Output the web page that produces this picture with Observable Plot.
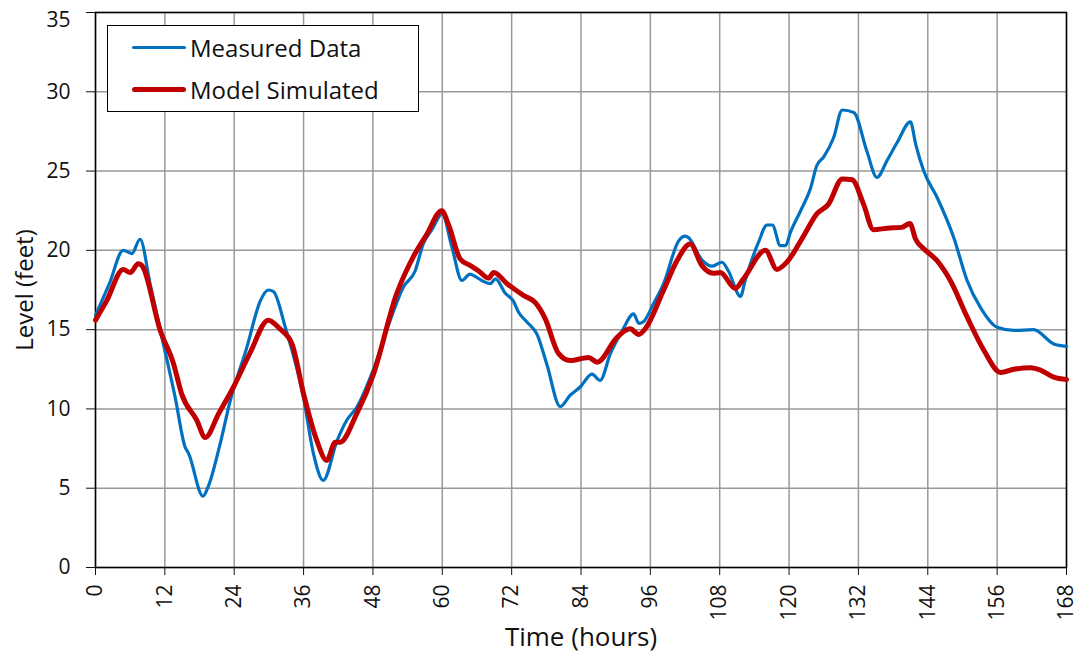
<!DOCTYPE html>
<html>
<head>
<meta charset="utf-8">
<script src="https://cdn.jsdelivr.net/npm/d3@7"></script>
<script src="https://cdn.jsdelivr.net/npm/@observablehq/plot@0.6"></script>
<style>
  body { margin: 0; background: #fff; font-family: "Open Sans", sans-serif; }
  #wrap { position: relative; width: 1079px; height: 655px; }
  #legend { position: absolute; left: 107px; top: 25px; width: 310px; height: 85px;
            border: 1.5px solid #000; background: #fff; box-sizing: content-box; }
  .row { position: absolute; left: 0; display: flex; align-items: center; font-size: 24px; color: #111; }
  .sw { display: inline-block; width: 54px; margin-left: 24px; margin-right: 4px; border-radius: 3px; }
</style>
</head>
<body>
<div id="wrap"></div>
<script>
const measuredHours = [0,2.4,4.8,6.3,7.7,9.5,11.5,13.8,15.5,16.1,18.6,19.5,21.5,23.3,26.2,28.5,29.9,30.8,32.8,36.0,37.7,39.4,41.8,43.5,45.2,48,51.0,53.3,55.3,56.7,58.2,60.0,61.6,63.4,64.8,65.7,67.1,68.3,69.2,70.9,72.3,73.2,74.6,76.4,78.1,80.4,82.1,83.9,85.9,87.3,89.1,91.1,93.1,94.0,94.8,96.5,98.3,100.9,102.0,102.6,104.9,106.7,108.4,109.5,111.6,112.4,114.7,116.2,117.1,118.5,119.4,120.2,122.0,123.7,124.8,126.0,127.7,129.2,131.2,133.5,135.2,137.0,138.7,141.0,141.9,143.3,145.6,148.5,150.8,153.1,156.0,158.9,162.3,165.8,168];
const measuredLevel = [15.9,17.9,20.0,19.8,20.7,17.8,14.5,10.7,7.6,7.2,4.5,5.1,7.7,10.5,13.9,16.8,17.5,17.4,15.2,10.7,7.2,5.5,8.0,9.3,10.1,12.4,15.6,17.7,18.7,20.4,21.3,22.3,20.3,18.1,18.5,18.35,18.05,17.9,18.2,17.3,16.8,16.1,15.5,14.7,12.8,10.15,10.85,11.4,12.2,11.8,13.5,14.9,16.0,15.4,15.5,16.6,17.9,20.6,20.9,20.8,19.4,19.0,19.25,18.7,17.1,18.1,20.5,21.6,21.6,20.3,20.3,21.1,22.5,23.9,25.35,25.9,27.1,28.85,28.7,26.2,24.6,25.7,26.8,28.1,26.7,25.0,23.35,20.8,18.1,16.4,15.15,14.95,15.0,14.1,13.95];

const modelHours = [0,1.9,4.8,6.0,7.4,8.0,11.2,13.5,14.9,17.5,19.0,21.3,23.9,26.7,29.9,31.9,34.0,36.0,38.3,40.0,41.5,42.3,45.2,48.1,52.1,55.0,57.3,59.9,61.1,63.1,64.8,66.3,68.0,68.9,71.2,74.1,76.1,77.8,80.1,82.1,85.3,86.8,90.2,92.5,94.0,95.1,98.3,100.6,102.9,104.9,106.9,108.1,110.7,112.1,115.9,117.9,119.6,122.5,124.8,126.8,129.2,130.9,132.9,134.6,137.0,139.5,140.9,141.9,143.3,145.6,147.9,150.8,153.7,156.6,158.9,161.8,163.5,165.8,168];
const modelLevel = [15.6,16.8,18.8,18.6,19.15,19.05,14.95,12.85,10.95,9.3,8.2,9.7,11.4,13.5,15.6,15.05,14.1,10.95,8.0,6.75,7.9,7.9,9.7,12.2,17.25,19.6,21.0,22.5,21.6,19.45,19.05,18.7,18.25,18.6,17.9,17.15,16.7,15.7,13.5,13.05,13.25,12.95,14.5,15.05,14.7,15.05,17.5,19.35,20.4,19.05,18.55,18.6,17.6,18.2,20.0,18.8,19.25,20.9,22.3,22.9,24.5,24.45,22.9,21.3,21.4,21.45,21.7,20.7,20.1,19.35,18.1,15.8,13.7,12.3,12.5,12.6,12.45,12.0,11.85];

const xTicks = d3.range(0, 169, 12);
const yTicks = d3.range(0, 36, 5);
const seriesNames = ["Measured Data", "Model Simulated"];
const seriesColors = ["#0070C0", "#C00000"];

const measured = measuredHours.map((h, i) => ({h, v: measuredLevel[i]}));
const model = modelHours.map((h, i) => ({h, v: modelLevel[i]}));
const yTop = yTicks[yTicks.length - 1];

const chart = Plot.plot({
  width: 1079,
  height: 655,
  marginLeft: 95,
  marginRight: 13,
  marginTop: 12,
  marginBottom: 88,
  style: { fontFamily: "Open Sans, sans-serif", fontSize: "21px", color: "#111", background: "#fff", overflow: "visible" },
  x: { domain: [0, 168] },
  y: { domain: [0, 35] },
  marks: [
    Plot.gridX(xTicks, { stroke: "#999", strokeOpacity: 1, strokeWidth: 1.5 }),
    Plot.gridY(yTicks, { stroke: "#999", strokeOpacity: 1, strokeWidth: 1.5 }),
    Plot.frame({ stroke: "#000", strokeWidth: 1.5 }),
    Plot.axisX(xTicks, { tickRotate: -90, tickSize: 8, tickPadding: 9, fontSize: 21,
      label: "Time (hours)", labelAnchor: "center", labelArrow: "none", labelOffset: 78 }),
    Plot.axisY(yTicks.filter(t => t !== yTop), { tickSize: 9, tickPadding: 16, fontSize: 21,
      label: "Level (feet)", labelAnchor: "center", labelArrow: "none", labelOffset: 80 }),
    Plot.axisY([yTop], { tickSize: 9, tickFormat: () => "", label: null }),
    Plot.axisY([yTop], { tickSize: 0, tickPadding: 25, fontSize: 21, dy: 8, label: null }),
    Plot.line(measured, { x: "h", y: "v", stroke: seriesColors[0], strokeWidth: 3.2, curve: "monotone-x" }),
    Plot.line(model, { x: "h", y: "v", stroke: seriesColors[1], strokeWidth: 5, curve: "monotone-x" })
  ]
});
chart.querySelectorAll("g[aria-label='x-axis label'] text").forEach(t => t.style.fontSize = "26px");
chart.querySelectorAll("g[aria-label='y-axis label'] text").forEach(t => t.style.fontSize = "24px");

const wrap = document.getElementById("wrap");
wrap.appendChild(chart);
const legend = document.createElement("div");
legend.id = "legend";
seriesNames.forEach((name, i) => {
  const row = document.createElement("div");
  row.className = "row";
  row.style.top = (i === 0 ? 5 : 47) + "px";
  row.style.height = "32px";
  const sw = document.createElement("span");
  sw.className = "sw";
  sw.style.background = seriesColors[i];
  sw.style.height = (i === 0 ? 3 : 5) + "px";
  row.appendChild(sw);
  const lab = document.createElement("span");
  lab.textContent = name;
  row.appendChild(lab);
  legend.appendChild(row);
});
wrap.appendChild(legend);
</script>
</body>
</html>
